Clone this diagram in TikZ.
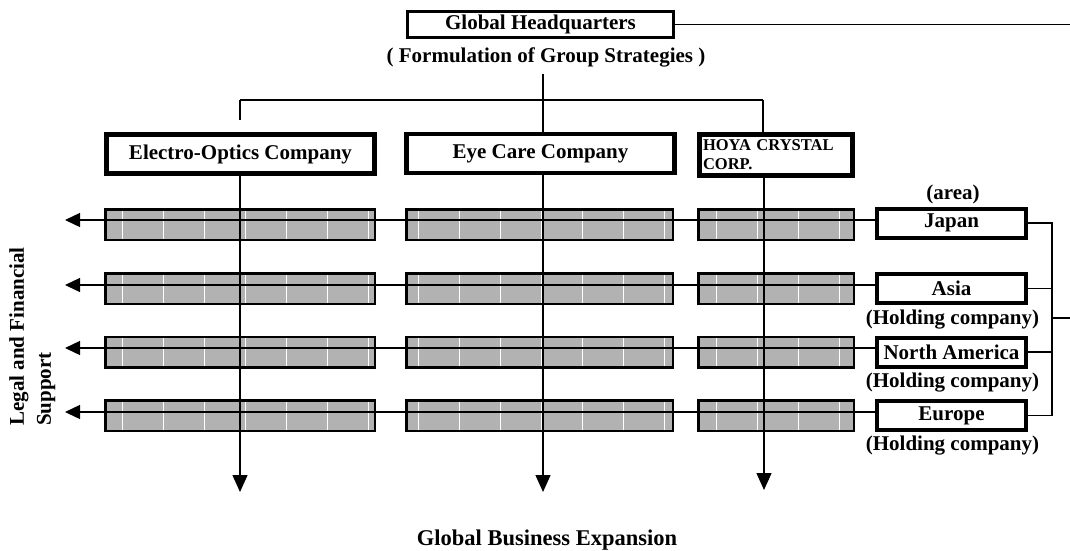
\documentclass[tikz,border=0pt]{standalone}
\usepackage{fontspec}
\setmainfont{Liberation Serif}
\usetikzlibrary{arrows.meta}
\tikzset{
  conn/.style={line width=1.3pt},
  larr/.style={conn, -{Triangle[length=15pt,width=14pt]}},
  darr/.style={conn, -{Triangle[length=17pt,width=15pt]}},
  hqbox/.style={draw, line width=2.6pt, minimum width=266.5pt, minimum height=26.5pt},
  unitbox/.style={draw, line width=4.6pt, minimum height=39pt},
  areabox/.style={draw, line width=4pt, minimum width=149pt, minimum height=29pt},
  stripe/.style={white, line width=1.2pt},
  stripebar/.style={draw, line width=2.5pt, fill=black!30, minimum height=30.5pt,
    path picture={\foreach \k in {0,...,7}{\draw[stripe] ([xshift={#1pt+\k*41pt}]path picture bounding box.north west) -- ([xshift={#1pt+\k*41pt}]path picture bounding box.south west);}}},
}
\begin{document}
\begin{tikzpicture}[x=1pt,y=-1pt,
  every node/.style={font=\bfseries\fontsize{21}{25}\selectfont, inner sep=0pt}]
\useasboundingbox (0,0) rectangle (1070,550);

% headquarters
\node[hqbox] (hq) at (540.5,24.5) {Global Headquarters};
\node (form) at (546,57) {( Formulation of Group Strategies )};

% companies
\node[unitbox, minimum width=268.5pt] (eo) at (240.5,154) {Electro-Optics Company};
\node[unitbox, minimum width=268.5pt] (eye) at (540.5,153.5) {Eye Care Company};
\node[unitbox, minimum height=41.5pt, text width=146pt, inner xsep=3.75pt, align=left,
      font=\bfseries\fontsize{16.5}{19}\selectfont] (hoya) at (776,155) {HOYA CRYSTAL\\CORP.};

% hatched bars
\foreach \r/\yy in {1/224.5,2/288.5,3/352,4/415.5}{
  \node[stripebar=17.5, minimum width=269.5pt] (ba\r) at (240,\yy) {};
  \node[stripebar=12.5, minimum width=266.5pt] (bb\r) at (539.5,\yy) {};
  \node[stripebar=18.5, minimum width=155.5pt] (bc\r) at (776,\yy) {};
}

% areas
\node (arealbl) at (953,194) {(area)};
\node[areabox] (japan) at (951.5,223) {Japan};
\node[areabox] (asia) at (951.5,288.5) {Asia};
\node (h1) at (952.5,320) {(Holding company)};
\node[areabox] (na) at (951.5,352) {North America};
\node (h2) at (952.5,383) {(Holding company)};
\node[areabox] (europe) at (951.5,415.5) {Europe};
\node (h3) at (952.5,446) {(Holding company)};

% side and bottom labels
\node[rotate=90, anchor=north west, align=left,
      font=\bfseries\fontsize{21}{27}\selectfont] (legal) at (9,426) {Legal and Financial\\Support};
\node[font=\bfseries\fontsize{22.5}{27}\selectfont] (gbe) at (547,540) {Global Business Expansion};

% coordinates
\coordinate (vt) at (543,74);
\coordinate (jl) at (240,100);
\coordinate (jr) at (763,100);
\coordinate (jt) at (240,120);
\coordinate (d1) at (240,492);
\coordinate (d2) at (543,492);
\coordinate (d3) at (764,490);
\coordinate (l1) at (65,220);
\coordinate (l2) at (65,285);
\coordinate (l3) at (65,348);
\coordinate (l4) at (65,412);
\coordinate (rs) at (1052,318);
\coordinate (re) at (1070,318);

% tree at top
\draw[conn] (vt) -- (vt |- eye.north);
\draw[conn] (jl) -- (jr);
\draw[conn] (jl) -- (jt);
\draw[conn] (jr) -- (jr |- hoya.north);
\draw[conn] (hq.east) -- (hq.east -| re);

% down arrows
\draw[darr] (eo.south -| d1) -- (d1);
\draw[darr] (eye.south -| d2) -- (d2);
\draw[darr] (hoya.south -| d3) -- (d3);

% left arrows
\draw[larr] (japan.west |- l1) -- (l1);
\draw[larr] (asia.west |- l2) -- (l2);
\draw[larr] (na.west |- l3) -- (l3);
\draw[larr] (europe.west |- l4) -- (l4);

% right bracket
\draw[conn] (japan.east) -- (japan.east -| rs) -- (europe.east -| rs) -- (europe.east);
\draw[conn] (asia.east) -- (asia.east -| rs);
\draw[conn] (na.east) -- (na.east -| rs);
\draw[conn] (rs) -- (re);
\end{tikzpicture}
\end{document}
